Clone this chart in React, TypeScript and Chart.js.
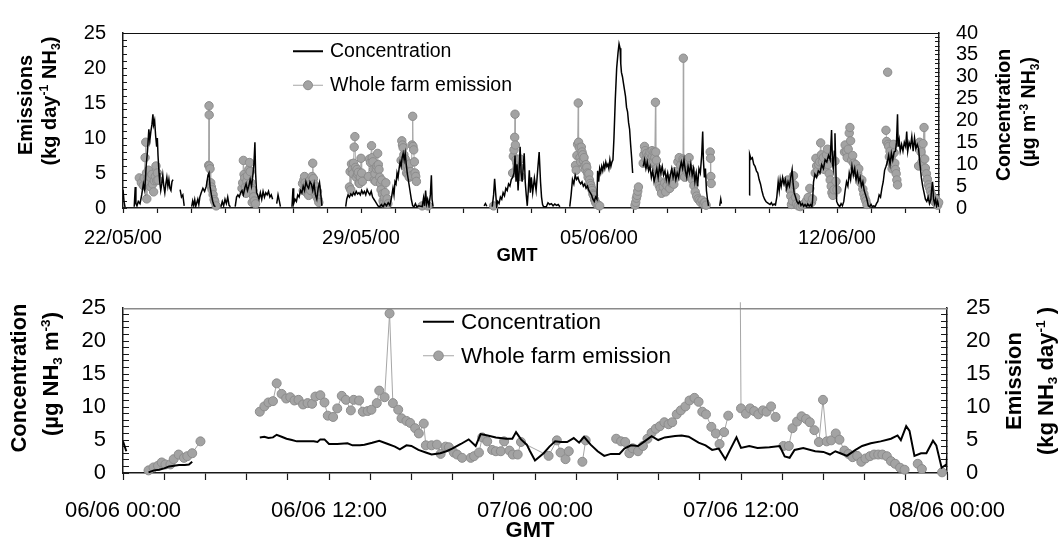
import React, { useEffect, useRef } from "react";
import { Chart, registerables } from "chart.js";

Chart.register(...registerables);

const FONT = "'Liberation Sans', Arial, Helvetica, sans-serif";

// ---------- tick labels ----------
const topLabelDays = [0, 7, 14, 21];
const topLabelTexts = ["22/05/00", "29/05/00", "05/06/00", "12/06/00"];
const bottomLabelDays = [0, 0.5, 1, 1.5, 2];
const bottomLabelTexts = ["06/06 00:00", "06/06 12:00", "07/06 00:00", "07/06 12:00", "08/06 00:00"];

// ---------- top panel: days since 22/05/00 ----------
// Concentration (µg m-3 NH3, right axis)
const topConcentration = [
  [0.00,4.2],[0.03,1.5],[0.06,0.2],[0.08,null],
  [0.33,0.3],[0.36,4.8],[0.38,1.0],[0.41,0.5],[0.45,1.5],[0.50,1.0],[0.55,3.0],[0.60,5.5],[0.64,4.0],[0.68,9.5],[0.72,13.0],[0.76,18.0],[0.79,15.5],[0.82,17.5],[0.85,19.0],[0.88,21.4],[0.90,19.0],[0.93,20.0],[0.96,16.5],[0.99,14.0],[1.01,16.0],[1.03,12.0],[1.06,8.0],[1.08,6.0],[1.11,4.0],[1.14,5.5],[1.17,7.5],[1.20,5.0],[1.23,3.5],[1.26,5.5],[1.29,7.0],[1.32,5.0],[1.35,6.5],[1.38,4.5],[1.41,4.0],[1.44,6.0],[1.47,6.5],[1.49,null],
  [1.68,4.2],[1.72,2.5],[1.76,3.0],[1.80,0.5],[1.82,null],
  [2.02,0.3],[2.05,1.6],[2.08,0.6],[2.11,1.9],[2.14,0.4],[2.17,1.2],[2.20,2.0],[2.23,0.8],[2.26,2.5],[2.30,3.5],[2.35,4.5],[2.40,3.8],[2.45,5.0],[2.50,7.5],[2.53,8.0],[2.56,5.0],[2.60,3.0],[2.64,1.5],[2.68,0.5],[2.72,0.3],[2.74,null],
  [2.88,0.3],[2.92,1.5],[2.96,0.5],[3.00,2.0],[3.04,1.0],[3.08,2.5],[3.12,0.6],[3.16,0.3],[3.18,null],
  [3.30,0.3],[3.34,2.5],[3.38,3.0],[3.42,2.5],[3.46,3.5],[3.50,4.0],[3.54,3.0],[3.58,4.5],[3.62,5.5],[3.66,4.0],[3.70,5.0],[3.74,6.5],[3.78,5.0],[3.82,7.5],[3.85,10.0],[3.88,15.0],[3.90,8.0],[3.93,3.5],[3.96,3.0],[4.00,2.0],[4.04,3.5],[4.08,2.0],[4.12,3.8],[4.16,2.5],[4.20,3.5],[4.24,3.0],[4.28,3.8],[4.32,2.5],[4.36,3.0],[4.40,2.0],[4.42,null],
  [4.52,1.0],[4.56,3.0],[4.60,1.5],[4.63,0.3],[4.65,null],
  [4.97,0.3],[5.00,4.5],[5.02,1.0],[5.06,2.0],[5.10,1.5],[5.14,3.0],[5.18,2.5],[5.22,4.0],[5.26,3.5],[5.30,5.0],[5.34,4.0],[5.38,6.0],[5.42,5.0],[5.46,4.5],[5.50,6.0],[5.54,5.5],[5.58,4.0],[5.62,5.5],[5.66,3.0],[5.70,2.0],[5.74,4.5],[5.78,5.8],[5.82,3.0],[5.85,0.5],[5.87,null],
  [6.55,0.3],[6.58,2.0],[6.62,3.0],[6.66,2.5],[6.70,3.2],[6.74,2.8],[6.78,3.5],[6.82,3.0],[6.86,3.8],[6.90,3.2],[6.94,3.5],[6.98,3.0],[7.02,4.0],[7.06,3.3],[7.10,3.8],[7.14,3.0],[7.18,4.2],[7.22,3.5],[7.26,3.0],[7.30,3.8],[7.34,2.5],[7.38,2.0],[7.42,1.5],[7.46,1.0],[7.50,0.5],[7.55,0.3],[7.60,0.8],[7.65,0.3],[7.70,1.0],[7.75,0.5],[7.80,1.2],[7.85,0.6],[7.90,2.5],[7.94,4.5],[7.97,3.0],[8.00,6.0],[8.03,5.5],[8.06,8.0],[8.09,7.0],[8.12,9.0],[8.15,10.5],[8.18,9.5],[8.21,11.5],[8.24,12.5],[8.27,11.0],[8.30,12.5],[8.33,10.0],[8.36,8.0],[8.40,6.0],[8.44,4.0],[8.48,2.0],[8.52,0.5],[8.56,0.3],[8.60,1.0],[8.64,0.3],[8.70,0.5],[8.80,0.3],[8.84,2.3],[8.87,0.5],[8.90,4.0],[8.93,1.0],[8.96,2.0],[9.00,0.5],[9.04,3.0],[9.07,7.5],[9.09,2.0],[9.12,0.3],[9.14,null],
  [10.62,0.5],[10.66,1.0],[10.70,0.4],[10.72,null],
  [10.86,0.3],[10.90,3.0],[10.93,6.7],[10.96,3.5],[10.99,0.5],[11.02,1.5],[11.06,1.0],[11.10,2.5],[11.14,2.0],[11.18,3.5],[11.22,2.8],[11.26,4.5],[11.30,4.0],[11.34,5.5],[11.38,5.0],[11.42,6.5],[11.46,7.0],[11.50,8.0],[11.53,12.0],[11.56,6.0],[11.59,10.0],[11.62,4.0],[11.65,8.5],[11.68,14.0],[11.71,8.0],[11.74,6.0],[11.77,9.0],[11.80,12.5],[11.83,6.0],[11.86,3.0],[11.89,0.5],[11.92,4.0],[11.95,8.6],[11.98,3.5],[12.01,7.0],[12.05,3.5],[12.10,6.8],[12.15,4.0],[12.20,9.0],[12.24,12.8],[12.28,6.0],[12.31,2.5],[12.34,0.8],[12.37,0.3],[12.45,0.3],[12.50,1.2],[12.55,0.8],[12.60,1.0],[12.65,0.5],[12.70,0.9],[12.75,0.6],[12.80,0.8],[12.85,0.3],[12.88,null],
  [13.14,0.3],[13.18,3.0],[13.22,6.5],[13.26,5.5],[13.30,7.5],[13.34,6.5],[13.38,7.0],[13.42,6.0],[13.46,5.5],[13.50,6.0],[13.54,5.0],[13.58,5.5],[13.62,4.5],[13.66,5.0],[13.70,4.0],[13.74,3.5],[13.78,3.0],[13.82,2.0],[13.86,1.5],[13.90,2.5],[13.94,2.0],[13.96,8.5],[13.99,6.0],[14.02,9.0],[14.05,8.0],[14.08,9.5],[14.11,8.5],[14.14,10.0],[14.17,9.0],[14.20,10.5],[14.23,9.5],[14.26,10.0],[14.29,9.0],[14.32,11.0],[14.35,9.5],[14.38,10.5],[14.41,11.0],[14.44,16.0],[14.48,25.0],[14.52,32.0],[14.56,35.5],[14.59,37.5],[14.62,36.5],[14.64,33.0],[14.66,31.0],[14.69,30.0],[14.72,28.5],[14.75,27.0],[14.78,25.5],[14.81,23.0],[14.84,22.0],[14.87,19.5],[14.90,18.0],[14.93,14.5],[14.96,11.5],[14.99,8.0],[15.01,null],
  [15.30,9.5],[15.34,11.0],[15.38,9.0],[15.42,10.5],[15.46,8.5],[15.50,9.5],[15.54,7.0],[15.58,8.5],[15.62,6.0],[15.66,7.5],[15.70,9.0],[15.74,7.0],[15.78,9.5],[15.82,8.0],[15.86,9.5],[15.90,7.5],[15.94,8.5],[15.98,6.5],[16.02,8.0],[16.06,6.0],[16.10,7.5],[16.14,9.0],[16.18,7.0],[16.22,8.5],[16.26,6.5],[16.30,8.0],[16.34,7.0],[16.38,9.0],[16.42,10.5],[16.46,9.0],[16.50,11.0],[16.54,8.5],[16.58,7.0],[16.62,9.5],[16.66,8.0],[16.70,10.0],[16.74,7.5],[16.78,9.0],[16.82,6.0],[16.86,8.0],[16.90,5.0],[16.94,9.0],[16.98,8.0],[17.02,12.0],[17.05,17.5],[17.07,11.0],[17.10,7.0],[17.13,9.0],[17.16,4.0],[17.19,2.0],[17.22,0.5],[17.24,null],
  [17.55,0.5],[17.58,2.0],[17.60,1.0],[17.62,null],
  [18.42,3.0],[18.43,12.3],[18.47,11.2],[18.51,11.5],[18.55,10.0],[18.59,9.5],[18.63,8.5],[18.67,8.0],[18.71,6.5],[18.75,5.5],[18.79,4.0],[18.83,2.8],[18.87,2.0],[18.91,1.5],[18.95,1.2],[18.99,1.0],[19.03,0.8],[19.07,1.2],[19.11,0.6],[19.15,0.9],[19.19,0.7],[19.23,2.5],[19.27,6.0],[19.30,4.0],[19.33,6.5],[19.36,5.0],[19.40,7.0],[19.44,5.5],[19.48,6.5],[19.52,4.5],[19.56,6.0],[19.60,5.0],[19.64,7.0],[19.68,8.8],[19.71,5.5],[19.74,3.5],[19.78,2.5],[19.82,1.5],[19.86,1.0],[19.90,1.5],[19.94,0.6],[19.98,1.0],[20.02,0.4],[20.06,0.8],[20.10,0.3],[20.14,0.9],[20.18,0.4],[20.22,0.8],[20.26,0.3],
  [20.28,1.5],[20.31,6.0],[20.35,7.7],[20.40,7.0],[20.45,8.5],[20.50,8.0],[20.55,9.9],[20.60,9.0],[20.65,11.0],[20.70,10.5],[20.75,12.0],[20.80,11.0],[20.84,17.8],[20.87,10.0],[20.89,9.0],[20.92,13.0],[20.94,17.1],[20.97,8.0],[20.99,1.5],[21.03,0.8],[21.08,0.3],[21.12,1.0],[21.16,0.5],[21.20,1.5],
  [21.24,4.0],[21.28,6.0],[21.32,5.0],[21.36,8.0],[21.40,6.5],[21.44,9.5],[21.48,7.5],[21.52,9.0],[21.56,6.5],[21.60,8.0],[21.64,6.0],[21.68,7.0],[21.72,5.0],[21.76,6.0],[21.80,4.0],[21.84,3.0],[21.88,2.0],[21.92,0.5],[21.96,0.3],[22.00,0.8],[22.04,0.3],[22.08,0.5],[22.12,0.3],[22.16,1.0],[22.20,1.5],[22.24,3.0],[22.28,2.5],[22.32,4.5],[22.36,6.0],[22.40,8.6],[22.44,9.5],[22.48,10.5],[22.52,12.0],[22.56,10.0],[22.60,12.5],[22.64,11.0],[22.68,12.8],[22.72,13.0],[22.75,15.0],[22.78,21.4],[22.80,14.0],[22.83,15.5],[22.86,13.0],[22.90,14.5],[22.94,13.0],[22.98,15.0],[23.02,14.0],[23.05,17.5],[23.08,13.0],[23.12,15.0],[23.16,14.0],[23.20,16.3],[23.24,13.0],[23.28,16.0],[23.32,13.5],[23.36,14.5],[23.40,13.5],[23.44,10.0],[23.48,7.0],[23.52,5.0],[23.56,3.5],[23.60,2.0],[23.64,1.5],[23.68,2.5],[23.72,1.0],[23.76,2.0],[23.78,4.0],[23.81,6.0],[23.84,2.0],[23.87,1.0],[23.90,2.0],[23.93,0.5],[23.96,1.5],[24.00,0.3],
];

// Whole farm emission (kg day-1 NH3, left axis)
const topEmission = [
  [0.48,4.3],[0.54,3.6],[0.60,3.2],[0.62,4.3],[0.65,7.2],[0.67,9.4],[0.69,5.0],[0.70,1.3],[0.72,4.2],[0.75,5.4],[0.77,3.6],[0.80,4.4],[0.82,3.0],[0.85,4.8],[0.87,3.4],[0.90,2.3],[0.92,3.9],[0.95,4.5],[0.97,6.0],[0.99,3.9],[1.01,5.0],[1.03,4.0],[1.05,null],
  [2.52,6.1],[2.53,14.6],[2.535,13.3],[2.54,6.0],[2.56,5.6],[2.58,3.6],[2.60,3.0],[2.62,2.6],[2.65,1.9],[2.68,1.2],[2.70,0.9],[2.74,0.3],[2.76,null],
  [3.50,2.8],[3.52,3.6],[3.54,6.8],[3.56,4.8],[3.58,4.3],[3.60,3.0],[3.62,2.1],[3.64,3.8],[3.66,4.6],[3.68,3.2],[3.70,5.5],[3.72,6.5],[3.74,5.2],[3.76,3.6],[3.78,2.8],[3.80,0.8],[3.82,2.5],[3.84,1.6],[3.86,1.0],[3.90,0.6],[3.92,null],
  [5.28,3.5],[5.30,2.5],[5.32,4.0],[5.34,4.5],[5.36,3.6],[5.38,3.0],[5.40,2.2],[5.42,3.4],[5.44,2.6],[5.46,1.8],[5.48,3.0],[5.50,4.0],[5.52,2.5],[5.54,3.5],[5.56,4.5],[5.58,6.4],[5.60,4.2],[5.62,3.4],[5.64,2.8],[5.66,2.0],[5.68,3.0],[5.70,1.6],[5.72,2.4],[5.74,1.2],[5.76,0.8],[5.78,null],
  [6.66,3.0],[6.68,5.2],[6.70,2.6],[6.72,6.3],[6.74,5.5],[6.76,4.9],[6.78,6.4],[6.80,8.7],[6.82,10.2],[6.84,5.8],[6.86,4.4],[6.88,5.5],[6.90,4.8],[6.92,5.1],[6.94,3.6],[6.96,3.5],[6.98,4.4],[7.00,7.1],[7.02,5.0],[7.04,3.8],[7.06,null],
  [7.22,4.5],[7.25,7.0],[7.28,6.5],[7.31,8.9],[7.33,7.2],[7.35,6.6],[7.37,5.5],[7.39,4.0],[7.41,4.9],[7.43,3.8],[7.45,5.6],[7.47,6.0],[7.49,7.8],[7.51,6.2],[7.53,5.5],[7.55,4.4],[7.57,3.5],[7.59,2.6],[7.61,4.0],[7.63,2.0],[7.65,1.0],[7.67,0.7],[7.69,1.5],[7.71,2.2],[7.73,3.6],[7.75,0.8],[7.77,1.3],[7.79,0.6],[7.81,null],
  [8.18,6.8],[8.20,9.6],[8.22,9.0],[8.24,8.6],[8.26,7.6],[8.28,6.4],[8.30,7.0],[8.32,5.8],[8.34,5.0],[8.36,6.0],[8.38,4.8],[8.40,5.5],[8.42,4.4],[8.44,6.3],[8.46,5.2],[8.48,4.6],[8.50,9.0],[8.52,13.1],[8.53,8.8],[8.55,8.3],[8.57,6.6],[8.59,5.0],[8.61,4.5],[8.63,3.8],[8.65,null],
  [8.80,0.3],[8.97,0.3],[9.00,null],
  [10.90,0.3],[10.92,null],
  [11.46,5.0],[11.48,7.4],[11.50,8.3],[11.52,10.1],[11.53,13.4],[11.54,9.0],[11.56,6.9],[11.58,6.5],[11.60,5.7],[11.62,5.3],[11.64,4.8],[11.66,5.8],[11.68,7.0],[11.70,4.5],[11.72,null],
  [13.31,6.1],[13.33,5.4],[13.35,7.5],[13.37,9.1],[13.39,15.0],[13.40,9.4],[13.42,8.6],[13.44,7.2],[13.46,6.6],[13.48,8.7],[13.50,8.0],[13.52,7.6],[13.54,6.8],[13.56,7.2],[13.58,6.0],[13.60,5.5],[13.62,6.2],[13.64,5.8],[13.66,5.0],[13.68,4.4],[13.70,4.9],[13.72,4.0],[13.74,3.5],[13.76,3.2],[13.78,2.8],[13.80,2.5],[13.82,2.0],[13.84,1.8],[13.87,1.2],[13.90,0.8],[13.94,0.5],[13.98,0.4],[14.02,0.3],[14.04,null],
  [15.06,0.4],[15.08,0.8],[15.10,1.4],[15.12,1.8],[15.14,2.4],[15.16,3.0],[15.18,null],
  [15.30,6.4],[15.32,7.6],[15.34,8.8],[15.36,8.2],[15.38,7.0],[15.40,7.8],[15.42,6.8],[15.44,7.4],[15.46,6.2],[15.48,7.6],[15.50,8.0],[15.52,7.0],[15.54,6.5],[15.56,8.2],[15.58,7.4],[15.60,6.6],[15.62,8.0],[15.64,7.2],[15.66,15.1],[15.67,8.0],[15.69,6.8],[15.71,5.7],[15.73,4.9],[15.75,4.0],
  [15.77,3.2],[15.80,2.8],[15.84,2.1],[15.89,3.0],[15.93,3.6],[15.96,2.3],[16.00,3.2],[16.04,4.0],[16.08,2.8],[16.12,3.6],[16.16,4.4],[16.20,3.4],[16.24,5.2],[16.28,4.4],[16.32,6.6],[16.36,7.2],[16.40,6.1],[16.44,5.2],[16.47,7.0],[16.48,21.4],[16.49,6.8],[16.52,4.4],[16.55,5.9],[16.58,6.4],[16.62,5.0],[16.65,7.2],[16.68,5.6],[16.72,4.9],[16.75,4.0],[16.79,3.2],[16.83,2.3],[16.87,1.7],[16.91,1.3],[16.95,1.1],[16.99,0.8],[17.03,1.1],[17.07,0.6],[17.11,0.8],[17.15,0.4],[17.17,null],
  [17.27,8.0],[17.28,7.1],[17.29,4.5],[17.30,3.5],[17.32,null],
  [19.52,3.8],[19.55,4.0],[19.58,3.3],[19.61,2.6],[19.64,1.7],[19.66,0.5],[19.69,1.0],[19.72,4.6],[19.75,3.3],[19.78,1.5],[19.81,0.6],[19.86,0.3],[19.92,0.2],[19.98,0.4],[20.04,0.6],[20.10,1.0],[20.15,1.5],[20.20,2.8],[20.25,0.8],[20.28,1.3],[20.30,null],
  [20.36,5.0],[20.38,7.1],[20.40,6.0],[20.43,5.3],[20.46,6.2],[20.49,6.6],[20.52,9.3],[20.54,7.6],[20.57,6.6],[20.60,7.2],[20.63,5.5],[20.66,6.2],[20.69,7.6],[20.72,8.4],[20.74,6.2],[20.77,4.9],[20.80,4.0],[20.83,3.1],[20.85,2.2],[20.88,1.8],[20.91,2.6],[20.94,6.7],[20.97,3.8],[21.00,2.6],[21.02,null],
  [21.22,8.0],[21.24,9.0],[21.27,8.1],[21.30,7.2],[21.33,8.4],[21.36,10.7],[21.38,11.5],[21.40,9.6],[21.43,6.8],[21.46,7.5],[21.49,6.4],[21.52,5.7],[21.55,6.2],[21.58,5.3],[21.61,4.9],[21.64,5.6],[21.67,4.2],[21.70,3.6],[21.73,4.0],[21.76,2.7],[21.79,2.0],[21.82,1.4],[21.85,1.0],[21.88,0.5],[21.90,null],
  [22.44,11.1],[22.46,9.5],[22.47,null],[22.49,19.4],[22.495,null],[22.50,9.1],[22.52,8.8],[22.54,7.3],[22.56,8.1],[22.58,6.5],[22.60,7.4],[22.62,5.6],[22.64,6.2],[22.66,9.1],[22.68,7.9],[22.70,6.4],[22.72,5.5],[22.74,4.9],[22.76,4.0],[22.78,3.3],[22.80,null],
  [23.40,6.0],[23.43,9.4],[23.47,8.0],[23.50,6.6],[23.53,9.2],[23.56,11.5],[23.58,7.0],[23.60,5.7],[23.63,4.9],[23.66,4.1],[23.69,3.3],[23.72,2.9],[23.75,2.4],[23.78,1.9],[23.81,1.5],[23.84,1.2],[23.87,0.9],[23.90,1.3],[23.93,0.6],[23.96,0.4],[23.99,0.8],
];

// ---------- bottom panel: days since 06/06 00:00 ----------
// Concentration (µg NH3 m-3, left axis)
const bottomConcentration = [
  [0.000,4.8],[0.008,3.3],[0.012,null],
  [0.062,0.1],[0.075,0.4],[0.088,0.5],[0.100,0.7],[0.112,1.0],[0.124,1.1],[0.136,1.2],[0.150,1.2],[0.160,1.3],[0.168,1.7],[0.170,null],
  [0.332,5.4],[0.343,5.5],[0.353,5.3],[0.364,5.4],[0.373,5.8],[0.385,5.5],[0.397,5.2],[0.410,5.0],[0.422,4.8],[0.440,4.8],[0.463,4.8],[0.472,4.7],[0.479,5.1],[0.489,5.1],[0.500,4.4],[0.520,4.4],[0.545,4.5],[0.557,4.2],[0.575,4.2],[0.586,4.3],[0.605,4.6],[0.622,4.9],[0.643,4.4],[0.660,4.0],[0.672,3.6],[0.688,4.2],[0.700,4.1],[0.717,3.5],[0.735,3.1],[0.749,2.8],[0.770,3.0],[0.785,3.3],[0.799,3.7],[0.820,4.4],[0.839,5.1],[0.856,4.1],[0.868,5.9],[0.885,5.7],[0.905,5.4],[0.930,5.2],[0.945,5.2],[0.954,6.2],[0.966,5.1],[0.980,4.3],[0.988,3.3],[1.000,1.9],[1.021,3.0],[1.035,4.0],[1.049,4.8],[1.063,4.7],[1.078,4.7],[1.094,5.3],[1.107,4.6],[1.119,5.5],[1.135,4.3],[1.152,3.3],[1.168,2.6],[1.184,2.9],[1.205,2.9],[1.217,3.7],[1.233,4.2],[1.250,4.1],[1.266,4.8],[1.283,5.6],[1.299,5.0],[1.315,5.4],[1.340,5.6],[1.356,5.7],[1.373,5.5],[1.397,4.6],[1.414,4.2],[1.430,3.5],[1.446,3.7],[1.462,2.1],[1.475,3.7],[1.489,5.4],[1.500,3.8],[1.520,4.1],[1.540,3.8],[1.569,3.9],[1.594,4.1],[1.606,2.5],[1.618,2.3],[1.630,3.5],[1.651,3.8],[1.680,3.3],[1.700,3.2],[1.716,2.8],[1.729,3.3],[1.741,3.0],[1.757,2.6],[1.778,3.5],[1.794,4.1],[1.815,4.5],[1.839,4.8],[1.864,5.2],[1.880,5.7],[1.888,5.0],[1.901,7.1],[1.909,6.4],[1.921,2.6],[1.937,3.0],[1.950,3.0],[1.966,4.9],[1.974,4.2],[1.987,0.8],[1.999,1.3],[2.000,2.5],
];

// Whole farm emission (kg NH3 day-1, right axis)
const bottomEmission = [
  [0.062,0.4],[0.074,0.85],[0.085,1.1],[0.094,1.6],[0.103,1.3],[0.115,1.3],[0.123,2.1],[0.135,2.8],[0.148,2.3],[0.156,2.55],[0.168,3.0],[0.188,4.8],[0.200,null],
  [0.332,9.3],[0.343,10.1],[0.353,10.7],[0.364,10.9],[0.373,13.6],[0.385,12.0],[0.396,11.3],[0.406,11.5],[0.416,11.0],[0.426,11.1],[0.437,10.4],[0.448,10.6],[0.459,10.5],[0.467,11.6],[0.479,11.8],[0.489,10.7],[0.497,8.7],[0.510,8.5],[0.520,9.8],[0.531,11.7],[0.541,11.1],[0.553,9.5],[0.560,11.1],[0.573,11.0],[0.582,9.3],[0.594,9.4],[0.603,9.6],[0.616,10.6],[0.622,12.5],[0.635,11.5],[0.647,24.2],[0.655,10.6],[0.668,9.6],[0.676,8.3],[0.688,7.9],[0.697,7.6],[0.709,6.8],[0.718,6.0],[0.730,7.5],[0.735,4.2],[0.749,4.2],[0.762,4.3],[0.771,2.9],[0.783,4.0],[0.791,3.9],[0.803,3.1],[0.811,2.8],[0.823,2.3],[0.844,2.3],[0.852,2.55],[0.864,3.1],[0.872,5.4],[0.884,4.8],[0.896,3.5],[0.905,3.3],[0.917,3.3],[0.925,4.8],[0.938,3.4],[0.946,2.8],[0.958,2.8],[0.966,4.7],
  [1.033,2.6],[1.053,4.95],[1.062,3.1],[1.074,2.1],[1.082,3.3],[1.100,null],[1.115,1.7],[1.123,4.95],[1.150,null],
  [1.197,5.2],[1.209,4.8],[1.219,4.7],[1.229,3.0],[1.237,3.75],[1.250,3.3],[1.262,4.1],[1.273,5.2],[1.283,6.1],[1.293,6.7],[1.303,7.1],[1.314,7.7],[1.324,7.4],[1.333,7.7],[1.344,8.9],[1.354,9.5],[1.365,10.1],[1.375,11.0],[1.387,11.4],[1.397,10.8],[1.406,9.3],[1.415,8.9],[1.428,7.0],[1.439,6.0],[1.448,4.4],[1.459,6.2],[1.469,8.7],[1.480,null],
  [1.497,40.0],[1.500,9.8],[1.512,9.0],[1.522,9.8],[1.532,9.4],[1.542,8.9],[1.553,9.5],[1.562,9.3],[1.573,10.1],[1.584,8.5],[1.590,null],
  [1.603,4.1],[1.616,4.1],[1.625,6.8],[1.636,7.8],[1.647,8.6],[1.658,8.2],[1.667,7.7],[1.678,6.5],[1.689,4.7],[1.699,11.1],[1.708,4.8],[1.719,4.95],[1.730,6.0],[1.739,5.05],[1.751,3.4],[1.761,2.9],[1.771,2.4],[1.782,2.6],[1.792,1.7],[1.802,2.2],[1.813,2.55],[1.823,2.8],[1.833,2.8],[1.843,2.8],[1.854,2.55],[1.864,1.8],[1.874,1.4],[1.886,0.8],[1.897,0.5],[1.910,null],
  [1.929,1.4],[1.939,0.6],[1.950,null],[1.988,0.1],
];

// ---------- helpers ----------
const toXY = (pts) => pts.map(([x, y]) => ({ x, y }));
const everyFive = (v) => (Math.abs(Number(v) % 5) < 1e-9 ? String(v) : "");
const labelAt = (days, texts) => (v) => {
  const i = days.findIndex((d) => Math.abs(d - Number(v)) < 1e-6);
  return i >= 0 ? texts[i] : "";
};

const frameTop = {
  id: "frameTop",
  afterDatasetsDraw(chart, _args, opts) {
    const { ctx, chartArea: a } = chart;
    ctx.save();
    ctx.strokeStyle = opts.color || "#000";
    ctx.lineWidth = opts.width || 1;
    ctx.beginPath();
    ctx.moveTo(a.left, a.top + 0.5);
    ctx.lineTo(a.right, a.top + 0.5);
    ctx.stroke();
    ctx.restore();
  },
};

const axisStyle = (size) => ({
  ticks: { color: "#000", font: { family: FONT, size } },
  border: { color: "#1a1a1a", width: 1.5 },
});

const emissionStyle = {
  borderColor: "#a6a6a6",
  borderWidth: 1,
  pointRadius: 4.2,
  pointBackgroundColor: "#a3a3a3",
  pointBorderColor: "#8c8c8c",
  pointBorderWidth: 1,
  spanGaps: false,
  clip: { left: 6, right: 6, top: 6, bottom: 6 },
};

function topConfig() {
  return {
    type: "line",
    data: {
      datasets: [
        { label: "Concentration", data: toXY(topConcentration), yAxisID: "yC", borderColor: "#000", borderWidth: 1.5, pointRadius: 0, spanGaps: false },
        { label: "Whole farm emission", data: toXY(topEmission), yAxisID: "yE", ...emissionStyle },
      ],
    },
    options: {
      animation: false,
      responsive: true,
      maintainAspectRatio: false,
      events: [],
      layout: { padding: { top: 21, left: 0, right: 0, bottom: 0 } },
      plugins: { legend: { display: false }, tooltip: { enabled: false }, frameTop: { color: "#111", width: 1.2 } },
      scales: {
        x: {
          type: "linear", position: "bottom", min: 0, max: 24,
          ...axisStyle(20),
          ticks: { ...axisStyle(20).ticks, stepSize: 1, autoSkip: false, maxRotation: 0, minRotation: 0, padding: 13, callback: labelAt(topLabelDays, topLabelTexts) },
          grid: { drawOnChartArea: false, tickLength: 5, tickColor: "#1a1a1a", tickWidth: 1.2 },
          afterFit: (sc) => { sc.height = 62; },
        },
        yE: {
          type: "linear", position: "left", min: 0, max: 25,
          ...axisStyle(20),
          ticks: { ...axisStyle(20).ticks, stepSize: 1, autoSkip: false, padding: 21, callback: everyFive },
          grid: { drawOnChartArea: false, tickLength: -4, tickColor: "#1a1a1a", tickWidth: 1 },
          afterFit: (sc) => { sc.width = 123; },
        },
        yC: {
          type: "linear", position: "right", min: 0, max: 40,
          ...axisStyle(20),
          ticks: { ...axisStyle(20).ticks, stepSize: 1, autoSkip: false, padding: 21, callback: everyFive },
          grid: { drawOnChartArea: false, tickLength: -4, tickColor: "#1a1a1a", tickWidth: 1 },
          afterFit: (sc) => { sc.width = 120; },
        },
      },
    },
    plugins: [frameTop],
  };
}

function bottomConfig() {
  return {
    type: "line",
    data: {
      datasets: [
        { label: "Concentration", data: toXY(bottomConcentration), yAxisID: "yL", borderColor: "#000", borderWidth: 2, pointRadius: 0, spanGaps: false },
        { label: "Whole farm emission", data: toXY(bottomEmission), yAxisID: "yR", ...emissionStyle, pointRadius: 4.5 },
      ],
    },
    options: {
      animation: false,
      responsive: true,
      maintainAspectRatio: false,
      events: [],
      layout: { padding: { top: 30, left: 0, right: 0, bottom: 0 } },
      plugins: { legend: { display: false }, tooltip: { enabled: false }, frameTop: { color: "#8a8a8a", width: 1.5 } },
      scales: {
        x: {
          type: "linear", position: "bottom", min: 0, max: 2,
          ...axisStyle(22),
          ticks: { ...axisStyle(22).ticks, stepSize: 0.1, autoSkip: false, maxRotation: 0, minRotation: 0, padding: 18, callback: labelAt(bottomLabelDays, bottomLabelTexts) },
          grid: { drawOnChartArea: false, tickLength: 7, tickColor: "#1a1a1a", tickWidth: 1.2 },
          afterFit: (sc) => { sc.height = 68; },
        },
        yL: {
          type: "linear", position: "left", min: 0, max: 25,
          ...axisStyle(22),
          ticks: { ...axisStyle(22).ticks, stepSize: 1, autoSkip: false, padding: 23, callback: everyFive },
          grid: { drawOnChartArea: false, tickLength: -6, tickColor: "#1a1a1a", tickWidth: 1 },
          afterFit: (sc) => { sc.width = 123; },
        },
        yR: {
          type: "linear", position: "right", min: 0, max: 25,
          ...axisStyle(22),
          ticks: { ...axisStyle(22).ticks, stepSize: 1, autoSkip: false, padding: 25, callback: everyFive },
          grid: { drawOnChartArea: false, tickLength: -6, tickColor: "#1a1a1a", tickWidth: 1 },
          afterFit: (sc) => { sc.width = 112; },
        },
      },
    },
    plugins: [frameTop],
  };
}

// ---------- HTML text helpers ----------
const Sup = ({ children }) => (
  <span style={{ fontSize: "0.62em", position: "relative", top: "-0.62em" }}>{children}</span>
);
const Sub = ({ children }) => (
  <span style={{ fontSize: "0.62em", position: "relative", top: "0.3em" }}>{children}</span>
);

const VTitle = ({ x, y, size, children }) => (
  <div
    style={{
      position: "absolute", left: x, top: y,
      transform: "translate(-50%, -50%) rotate(-90deg)",
      whiteSpace: "nowrap", fontWeight: "bold", fontSize: size, lineHeight: 1, fontFamily: FONT,
    }}
  >
    {children}
  </div>
);

const HText = ({ x, y, size, bold, children }) => (
  <div
    style={{
      position: "absolute", left: x, top: y, transform: "translate(-50%, -50%)",
      whiteSpace: "nowrap", fontWeight: bold ? "bold" : "normal", fontSize: size, lineHeight: 1, fontFamily: FONT,
    }}
  >
    {children}
  </div>
);

const LegendRow = ({ x, y, w, size, kind, text, r }) => (
  <div style={{ position: "absolute", left: x, top: y, transform: "translateY(-50%)", display: "flex", alignItems: "center", whiteSpace: "nowrap" }}>
    <svg width={w} height={14} style={{ display: "block" }}>
      {kind === "line" ? (
        <line x1={0} y1={7} x2={w} y2={7} stroke="#000" strokeWidth={2} />
      ) : (
        <g>
          <line x1={0} y1={7} x2={w} y2={7} stroke="#a6a6a6" strokeWidth={1.2} />
          <circle cx={w / 2} cy={7} r={r} fill="#a3a3a3" stroke="#8c8c8c" strokeWidth={1} />
        </g>
      )}
    </svg>
    <span style={{ fontFamily: FONT, fontSize: size, marginLeft: 7, lineHeight: 1 }}>{text}</span>
  </div>
);

export default function App() {
  const topRef = useRef(null);
  const botRef = useRef(null);

  useEffect(() => {
    document.body.style.margin = "0";
    const c1 = new Chart(topRef.current, topConfig());
    const c2 = new Chart(botRef.current, bottomConfig());
    return () => {
      c1.destroy();
      c2.destroy();
    };
  }, []);

  return (
    <div style={{ position: "relative", width: 1059, height: 541, background: "#fff", color: "#000", overflow: "hidden" }}>
      <div style={{ position: "absolute", left: 0, top: 0, width: 1059, height: 270 }}>
        <canvas ref={topRef} />
      </div>
      <div style={{ position: "absolute", left: 0, top: 270, width: 1059, height: 271 }}>
        <canvas ref={botRef} />
      </div>

      {/* top panel titles */}
      <VTitle x={25} y={105} size={20}>Emissions</VTitle>
      <VTitle x={49} y={101} size={20}>(kg day<Sup>-1</Sup> NH<Sub>3</Sub>)</VTitle>
      <VTitle x={1004} y={115} size={19.5}>Concentration</VTitle>
      <VTitle x={1029} y={112} size={19.5}>(µg m<Sup>-3</Sup> NH<Sub>3</Sub>)</VTitle>
      <HText x={517} y={255} size={18.5} bold>GMT</HText>

      {/* top legend */}
      <LegendRow x={293} y={51} w={30} size={19.5} kind="line" text="Concentration" r={4.5} />
      <LegendRow x={293} y={85} w={30} size={19.5} kind="dot" text="Whole farm emission" r={4.5} />

      {/* bottom panel titles */}
      <VTitle x={19} y={378} size={22}>Concentration</VTitle>
      <VTitle x={51} y={374} size={22}>(µg NH<Sub>3</Sub> m<Sup>-3</Sup>)</VTitle>
      <VTitle x={1014} y={381} size={22}>Emission</VTitle>
      <VTitle x={1046} y={381} size={22}>(kg NH<Sub>3</Sub> day<Sup>-1</Sup> )</VTitle>
      <HText x={530} y={530} size={22} bold>GMT</HText>

      {/* bottom legend */}
      <LegendRow x={423} y={322} w={31} size={22.5} kind="line" text="Concentration" r={4.8} />
      <LegendRow x={423} y={356} w={31} size={22.5} kind="dot" text="Whole farm emission" r={4.8} />
    </div>
  );
}
